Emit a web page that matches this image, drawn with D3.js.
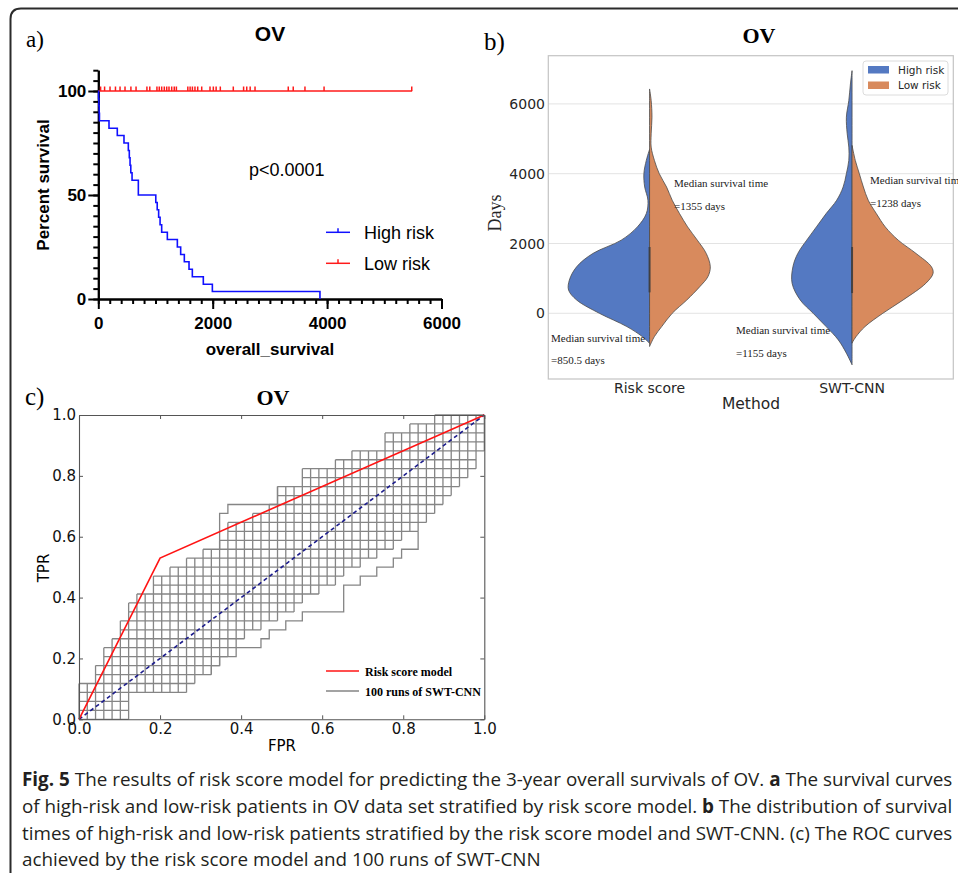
<!DOCTYPE html>
<html>
<head>
<meta charset="utf-8">
<script src="https://cdn.jsdelivr.net/npm/d3@7"></script>
<style>
body { margin: 0; background: #fff; }
svg { display: block; }
</style>
</head>
<body>
<script>
// ---- panel a: Kaplan-Meier, OV ----
const kmHighDays = [0, 5, 10, 15, 20, 187, 332, 449, 525, 542, 555, 568, 590, 700, 1005, 1030, 1055, 1080, 1108, 1207, 1382, 1440, 1504, 1586, 1644, 1836, 1994, 3875];
const kmHighSurv = [100, 96.4, 92.9, 89.3, 85.7, 82.1, 78.6, 75.0, 71.4, 67.9, 64.3, 60.7, 57.1, 50.0, 46.4, 42.9, 39.3, 35.7, 32.1, 28.6, 25.0, 21.4, 17.9, 14.3, 10.7, 7.1, 3.6, 0];
const kmLowEnd = 5487;
const kmLowCensor = [40, 110, 205, 300, 380, 467, 570, 660, 850, 900, 1025, 1066, 1108, 1154, 1196, 1236, 1283, 1328, 1365, 1565, 1605, 1645, 1690, 1738, 1808, 1953, 2011, 2060, 2133, 2360, 2540, 2595, 2655, 2740, 3321, 3408, 3613, 3947, 5480];
const aXTicks = [0, 2000, 4000, 6000];
const aYTicks = [0, 50, 100];

// ---- panel b: split violins (half-width density readings, 0-100) ----
const violinCats = ["Risk score", "SWT-CNN"];
const rsHigh = [[4695,0],[4381,4],[4000,7],[3619,6],[3238,2],[2857,4],[2476,15],[2095,35],[1714,70],[1333,90],[952,99],[667,100],[381,90],[0,62],[-381,28],[-667,9],[-857,0]];
const rsLow = [[6428,0],[6095,2],[5619,3],[5143,2],[4762,2],[4381,6],[4000,12],[3619,21],[3238,28],[2857,37],[2476,47],[2095,59],[1714,70],[1333,75],[1048,72],[762,62],[381,46],[0,28],[-381,15],[-667,6],[-952,0]];
const swtHigh = [[6952,0],[6571,2],[6095,4],[5619,7],[5143,6],[4762,4],[4381,4],[4000,7],[3619,11],[3238,19],[2857,32],[2476,44],[2095,56],[1714,67],[1333,73],[857,74],[381,64],[0,48],[-381,32],[-762,17],[-1143,7],[-1476,0]];
const swtLow = [[4810,0],[4381,4],[4000,9],[3619,14],[3238,20],[2857,30],[2476,41],[2095,57],[1714,79],[1333,98],[1143,100],[857,91],[381,63],[0,38],[-381,16],[-667,5],[-810,1],[-857,0]];
const innerBox = [[600, 1900], [580, 1900]];
const bYTicks = [0, 2000, 4000, 6000];

// ---- panel c: ROC ----
const rocRisk = [[0, 0], [0.2, 0.53], [1, 1]];
const nNeg = 49, nPos = 34;
// lattice of the 100 SWT-CNN runs: per FPR step, lowest and highest TPR step reached
const colTop = [4,4,6,8,9,11,13,14,14,16,16,17,17,18,18,19,19,20,22,22,22,23,23,24,26,26,26,28,28,28,28,29,29,30,30,30,30,32,32,32,33,33,33,34,34,34,34,34,34,34];
const colBot = [0,0,0,0,0,0,0,3,3,3,3,3,3,3,4,5,5,6,7,8,9,10,10,11,11,12,12,13,14,14,15,15,16,17,17,18,18,19,19,20,21,21,22,23,24,25,26,27,28,30];
// runs that leave the main band (step corners, in FPR/TPR steps)
const runUpper = [[17,19],[17,23],[18,23],[18,24],[24,24],[24,26]];
const runLower = [[16,5],[16,6],[17,6],[17,7],[19,7],[19,8],[22,8],[22,9],[23,9],[23,10],[25,10],[25,11],[27,11],[27,12],[32,12],[32,15],[34,15],[34,16],[36,16],[36,17],[38,17],[38,18],[39,18],[39,19],[41,19],[41,21]];
const cTicks = [0, 0.2, 0.4, 0.6, 0.8, 1.0];

const captionLines = [
  [["Fig. 5", 1], [" The results of risk score model for predicting the 3-year overall survivals of OV. ", 0], ["a", 1], [" The survival curves", 0]],
  [["of high-risk and low-risk patients in OV data set stratified by risk score model. ", 0], ["b", 1], [" The distribution of survival", 0]],
  [["times of high-risk and low-risk patients stratified by the risk score model and SWT-CNN. (c) The ROC curves", 0]],
  [["achieved by the risk score model and 100 runs of SWT-CNN", 0]]
];

const W = 958, H = 873;
const svg = d3.select("body").append("svg").attr("width", W).attr("height", H);
svg.append("rect").attr("width", W).attr("height", H).attr("fill", "#fff");

// frame of the figure
svg.append("path").attr("d", "M958,8.5 H21 Q10.5,8.5 10.5,19 V873")
  .attr("fill", "none").attr("stroke", "#2b2b2b").attr("stroke-width", 2);

const serif = "'Liberation Serif', 'Times New Roman', serif";
const arial = "'Liberation Sans', Arial, sans-serif";
const dejavu = "'DejaVu Sans', sans-serif";

// ================= panel a =================
const xa = d3.scaleLinear().domain([0, 6000]).range([98.3, 441.5]);
const ya = d3.scaleLinear().domain([0, 110]).range([299, 70.2]);
const ga = svg.append("g");

ga.append("text").attr("x", 26).attr("y", 47).attr("font-family", serif).attr("font-size", 23).text("a)");
ga.append("text").attr("x", 270).attr("y", 41).attr("text-anchor", "middle").attr("font-family", arial)
  .attr("font-weight", "bold").attr("font-size", 21).text("OV");

function styleAxis(g) {
  g.select(".domain").attr("stroke", "#000").attr("stroke-width", 2);
  g.selectAll(".tick line").attr("stroke", "#000").attr("stroke-width", 2);
  g.selectAll("text").attr("font-family", arial).attr("font-weight", "bold").attr("font-size", 17).attr("fill", "#000");
}

ga.append("g").attr("transform", "translate(0,299)")
  .call(d3.axisBottom(xa).tickValues(d3.range(0, 6001, 200)).tickSize(5).tickSizeOuter(0).tickFormat(""))
  .call(styleAxis);
ga.append("g").attr("transform", "translate(0,299)")
  .call(d3.axisBottom(xa).tickValues(aXTicks).tickFormat(d3.format("d")).tickSize(10).tickSizeOuter(0).tickPadding(8))
  .call(styleAxis);
ga.append("g").attr("transform", "translate(98.3,0)")
  .call(d3.axisLeft(ya).tickValues(d3.range(0, 111, 5)).tickSize(5).tickSizeOuter(0).tickFormat(""))
  .call(styleAxis);
ga.append("g").attr("transform", "translate(98.3,0)")
  .call(d3.axisLeft(ya).tickValues(aYTicks).tickFormat(d3.format("d")).tickSize(10).tickSizeOuter(0).tickPadding(2))
  .call(styleAxis);

ga.append("text").attr("x", 270).attr("y", 355).attr("text-anchor", "middle").attr("font-family", arial)
  .attr("font-weight", "bold").attr("font-size", 17).text("overall_survival");
ga.append("text").attr("transform", "translate(49,185) rotate(-90)").attr("text-anchor", "middle")
  .attr("font-family", arial).attr("font-weight", "bold").attr("font-size", 17).text("Percent survival");

const kmLine = d3.line().x(d => xa(d[0])).y(d => ya(d[1])).curve(d3.curveStepAfter);
ga.append("path").datum([[0, 100], [kmLowEnd, 100]]).attr("d", kmLine)
  .attr("fill", "none").attr("stroke", "#ff1a1a").attr("stroke-width", 1.5);
ga.selectAll(".cens").data(kmLowCensor).join("line")
  .attr("x1", d => xa(d)).attr("x2", d => xa(d))
  .attr("y1", ya(100) - 4.5).attr("y2", ya(100))
  .attr("stroke", "#ff1a1a").attr("stroke-width", 1.5);
ga.append("path").datum(kmHighDays.map((d, i) => [d, kmHighSurv[i]])).attr("d", kmLine)
  .attr("fill", "none").attr("stroke", "#1010ff").attr("stroke-width", 1.6);

ga.append("text").attr("x", 249).attr("y", 176).attr("font-family", arial).attr("font-size", 18).text("p<0.0001");

const aLegend = [["High risk", "#1010ff", 232.3, 239], ["Low risk", "#ff1a1a", 263.3, 270]];
aLegend.forEach(l => {
  ga.append("line").attr("x1", 326).attr("x2", 350).attr("y1", l[2]).attr("y2", l[2]).attr("stroke", l[1]).attr("stroke-width", 1.5);
  ga.append("line").attr("x1", 338).attr("x2", 338).attr("y1", l[2] - 4).attr("y2", l[2]).attr("stroke", l[1]).attr("stroke-width", 1.5);
  ga.append("text").attr("x", 364).attr("y", l[3]).attr("font-family", arial).attr("font-size", 18).text(l[0]);
});

// ================= panel b =================
const xb = d3.scalePoint().domain(violinCats).range([548.3, 953.3]).padding(0.5);
const yb = d3.scaleLinear().domain([-1883, 7381]).range([379, 55.7]);
const wb = d3.scaleLinear().domain([0, 100]).range([0, 81]);
const gb = svg.append("g");
const blue = "#5479c2", orange = "#d88a5d";

gb.append("text").attr("x", 484).attr("y", 50).attr("font-family", serif).attr("font-size", 25).text("b)");
gb.append("text").attr("x", 759).attr("y", 43).attr("text-anchor", "middle").attr("font-family", serif)
  .attr("font-weight", "bold").attr("font-size", 22).text("OV");

gb.selectAll(".grid").data(bYTicks).join("line")
  .attr("x1", 548.3).attr("x2", 953.3).attr("y1", d => yb(d)).attr("y2", d => yb(d))
  .attr("stroke", "#e3e3e3").attr("stroke-width", 1);
gb.append("rect").attr("x", 548.3).attr("y", 55.7).attr("width", 405).attr("height", 323.3)
  .attr("fill", "none").attr("stroke", "#c4c4c4").attr("stroke-width", 1.2);

gb.selectAll(".ytl").data(bYTicks).join("text")
  .attr("x", 545).attr("y", d => yb(d)).attr("dy", "0.36em").attr("text-anchor", "end")
  .attr("font-family", dejavu).attr("font-size", 14).attr("fill", "#262626").text(d => d);
gb.selectAll(".xtl").data(violinCats).join("text")
  .attr("x", d => xb(d)).attr("y", 392.5).attr("text-anchor", "middle")
  .attr("font-family", dejavu).attr("font-size", 14).attr("fill", "#262626").text(d => d);
gb.append("text").attr("x", 751).attr("y", 409).attr("text-anchor", "middle")
  .attr("font-family", dejavu).attr("font-size", 15.5).attr("fill", "#262626").text("Method");
gb.append("text").attr("transform", "translate(501,213) rotate(-90)").attr("text-anchor", "middle")
  .attr("font-family", serif).attr("font-size", 18).attr("fill", "#262626").text("Days");

const halves = [
  [violinCats[0], -1, rsHigh, blue], [violinCats[0], 1, rsLow, orange],
  [violinCats[1], -1, swtHigh, blue], [violinCats[1], 1, swtLow, orange]
];
halves.forEach(h => {
  const cx = xb(h[0]);
  const area = d3.area().y(d => yb(d[0])).x0(cx).x1(d => cx + h[1] * wb(d[1])).curve(d3.curveCatmullRom.alpha(0.5));
  gb.append("path").datum(h[2]).attr("d", area)
    .attr("fill", h[3]).attr("stroke", "#4a4a4a").attr("stroke-width", 0.8);
});
violinCats.forEach((c, i) => {
  gb.append("line").attr("x1", xb(c)).attr("x2", xb(c))
    .attr("y1", yb(innerBox[i][0])).attr("y2", yb(innerBox[i][1]))
    .attr("stroke", "#3c3c3c").attr("stroke-width", 2).attr("stroke-opacity", 0.85);
});

const bNotes = [
  ["Median survival time", 674, 187], ["=1355 days", 674, 210],
  ["Median survival time", 870, 184], ["=1238 days", 870, 207],
  ["Median survival time", 551, 342], ["=850.5 days", 551, 364],
  ["Median survival time", 736, 334], ["=1155 days", 736, 357]
];
gb.selectAll(".note").data(bNotes).join("text")
  .attr("x", d => d[1]).attr("y", d => d[2]).attr("font-family", serif).attr("font-size", 11)
  .attr("fill", "#222").text(d => d[0]);

gb.append("rect").attr("x", 863).attr("y", 61).attr("width", 85).attr("height", 34).attr("rx", 3)
  .attr("fill", "#fff").attr("fill-opacity", 0.85).attr("stroke", "#dcdcdc");
[["High risk", blue, 66, 73.5], ["Low risk", orange, 81.5, 89]].forEach(l => {
  gb.append("rect").attr("x", 868).attr("y", l[2]).attr("width", 21).attr("height", 7.5).attr("fill", l[1]);
  gb.append("text").attr("x", 898).attr("y", l[3]).attr("font-family", dejavu).attr("font-size", 10.5)
    .attr("fill", "#262626").text(l[0]);
});

// ================= panel c =================
const xc = d3.scaleLinear().domain([0, 1]).range([79, 484.3]);
const yc = d3.scaleLinear().domain([0, 1]).range([719.3, 415]);
const gc = svg.append("g");

gc.append("text").attr("x", 25).attr("y", 405).attr("font-family", serif).attr("font-size", 25).text("c)");
gc.append("text").attr("x", 273).attr("y", 405).attr("text-anchor", "middle").attr("font-family", serif)
  .attr("font-weight", "bold").attr("font-size", 22).text("OV");

// lattice segments
const segs = [];
colTop.forEach((t, i) => segs.push([[i / nNeg, colBot[i] / nPos], [i / nNeg, t / nPos]]));
for (let j = 0; j <= nPos; j++) {
  let lo = colTop.findIndex(t => t >= j);
  let hi = -1;
  colBot.forEach((b, i) => { if (b <= j) hi = i; });
  if (lo >= 0 && hi >= lo) segs.push([[lo / nNeg, j / nPos], [hi / nNeg, j / nPos]]);
}
const segLine = d3.line().x(d => xc(d[0])).y(d => yc(d[1]));
gc.append("path").attr("d", segs.map(s => segLine(s)).join(""))
  .attr("fill", "none").attr("stroke", "#858585").attr("stroke-width", 1.3);
[runUpper, runLower].forEach(r => {
  gc.append("path").datum(r.map(p => [p[0] / nNeg, p[1] / nPos])).attr("d", segLine)
    .attr("fill", "none").attr("stroke", "#858585").attr("stroke-width", 1.3);
});

gc.append("path").datum([[0, 0], [1, 1]]).attr("d", segLine)
  .attr("fill", "none").attr("stroke", "#1c1c8c").attr("stroke-width", 1.6).attr("stroke-dasharray", "4,3");
gc.append("path").datum(rocRisk).attr("d", segLine)
  .attr("fill", "none").attr("stroke", "#ff1414").attr("stroke-width", 1.6);

function styleC(g) {
  g.select(".domain").attr("stroke", "#555").attr("stroke-width", 1.1);
  g.selectAll(".tick line").attr("stroke", "#555");
  g.selectAll("text").attr("font-family", dejavu).attr("font-size", 15).attr("fill", "#111");
}
gc.append("g").attr("transform", "translate(0,719.3)")
  .call(d3.axisBottom(xc).tickValues(cTicks).tickFormat(d3.format(".1f")).tickSize(-4).tickSizeOuter(0).tickPadding(4)).call(styleC);
gc.append("g").attr("transform", "translate(0,415)")
  .call(d3.axisTop(xc).tickValues(cTicks).tickFormat("").tickSize(-4).tickSizeOuter(0)).call(styleC);
gc.append("g").attr("transform", "translate(79,0)")
  .call(d3.axisLeft(yc).tickValues(cTicks).tickFormat(d3.format(".1f")).tickSize(-4).tickSizeOuter(0).tickPadding(3)).call(styleC);
gc.append("g").attr("transform", "translate(484.3,0)")
  .call(d3.axisRight(yc).tickValues(cTicks).tickFormat("").tickSize(-4).tickSizeOuter(0)).call(styleC);

gc.append("text").attr("x", 282).attr("y", 751).attr("text-anchor", "middle")
  .attr("font-family", dejavu).attr("font-size", 15).text("FPR");
gc.append("text").attr("transform", "translate(49,568) rotate(-90)").attr("text-anchor", "middle")
  .attr("font-family", dejavu).attr("font-size", 15).text("TPR");

[["Risk score model", "#ff1414", 671, 675.5], ["100 runs of SWT-CNN", "#858585", 691, 695.5]].forEach(l => {
  gc.append("line").attr("x1", 326).attr("x2", 359).attr("y1", l[2]).attr("y2", l[2]).attr("stroke", l[1]).attr("stroke-width", 1.6);
  gc.append("text").attr("x", 365).attr("y", l[3]).attr("font-family", serif).attr("font-weight", "bold")
    .attr("font-size", 12).text(l[0]);
});

// ================= caption =================
// condensed face: one glyph squeeze for all lines (mean of the three full lines),
// the full lines are then justified with a little word spacing
const capY = [786, 813, 840, 866];
const capFull = 931;
const capNodes = captionLines.map(line => {
  const t = svg.append("text").attr("x", 0).attr("y", 0)
    .attr("font-family", "'Open Sans', sans-serif").attr("font-size", 19).attr("fill", "#231f20");
  line.forEach(s => t.append("tspan").attr("font-weight", s[1] ? "bold" : "normal").text(s[0]));
  return t;
});
const naturals = capNodes.map(t => t.node().getComputedTextLength());
const squeeze = d3.mean(naturals.slice(0, 3), n => capFull / n);
capNodes.forEach((t, k) => {
  if (k < 3) {
    const spaces = t.text().split(" ").length - 1;
    t.attr("word-spacing", (capFull / squeeze - naturals[k]) / spaces);
  }
  t.attr("transform", `translate(22,${capY[k]}) scale(${squeeze},1)`);
});
</script>
</body>
</html>
